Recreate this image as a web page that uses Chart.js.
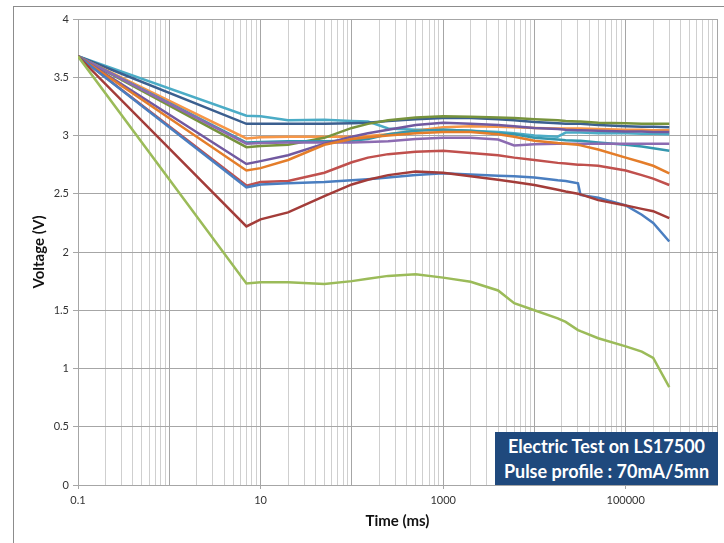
<!DOCTYPE html>
<html>
<head>
<meta charset="utf-8">
<script src="https://cdn.jsdelivr.net/npm/chart.js@4.4.1/dist/chart.umd.min.js"></script>
<style>
  body { margin: 0; background: #fff; overflow: hidden; }
  #wrap { position: relative; width: 724px; height: 543px; }
  #frame { position: absolute; left: 13px; top: 6px; width: 800px; height: 600px;
           border-left: 1px solid #8c8c8c; border-top: 1px solid #8c8c8c; }
  #note { position: absolute; left: 495px; top: 432px; width: 223px; height: 53px;
          background: #1f497d; color: #fff; font: bold 18px Lato, sans-serif;
          text-align: center; line-height: 25px; padding-top: 2px; box-sizing: border-box; }
</style>
</head>
<body>
<div id="wrap">
  <div id="frame"></div>
  <canvas id="chart" width="724" height="543"></canvas>
  <div id="note">Electric Test on LS17500<br>Pulse profile : 70mA/5mn</div>
</div>
<script>
// time base shared by all curves (ms)
const timeMs = [0.1, 7, 10, 20, 50, 100, 150, 250, 500, 1000, 2000, 4000, 6000,
                10000, 18000, 22000, 30000, 32000, 50000, 100000, 150000, 200000, 300000];

// voltages (V)
const cyanV    = [3.68, 3.17, 3.165, 3.13, 3.135, 3.125, 3.12, 3.06, 3.05, 3.05, 3.04, 3.03, 3.02, 3.00, 2.99, 3.025, 3.025, 3.025, 3.02, 3.02, 3.015, 3.015, 3.01];
const darkBlueV = [3.68, 3.10, 3.10, 3.10, 3.10, 3.105, 3.11, 3.125, 3.14, 3.15, 3.15, 3.14, 3.13, 3.115, 3.105, 3.10, 3.10, 3.10, 3.09, 3.08, 3.075, 3.075, 3.07];
const oliveV   = [3.68, 2.90, 2.91, 2.92, 2.98, 3.065, 3.10, 3.13, 3.155, 3.165, 3.16, 3.155, 3.15, 3.14, 3.13, 3.125, 3.12, 3.12, 3.11, 3.105, 3.10, 3.10, 3.10];
const orangeV  = [3.68, 2.975, 2.985, 2.99, 2.99, 2.99, 2.995, 3.01, 3.04, 3.07, 3.08, 3.075, 3.07, 3.065, 3.06, 3.06, 3.06, 3.06, 3.055, 3.05, 3.05, 3.045, 3.045];
const tealV    = [3.68, 2.94, 2.945, 2.95, 2.95, 2.955, 2.97, 3.01, 3.04, 3.05, 3.04, 3.02, 3.01, 2.98, 2.965, 2.96, 2.955, 2.955, 2.94, 2.92, 2.905, 2.89, 2.87];
const purpleV  = [3.68, 2.93, 2.935, 2.94, 2.94, 2.94, 2.945, 2.95, 2.97, 2.98, 2.98, 2.965, 2.915, 2.925, 2.93, 2.93, 2.93, 2.93, 2.93, 2.93, 2.93, 2.93, 2.93];
const purple2V = [3.68, 2.755, 2.78, 2.83, 2.93, 2.99, 3.02, 3.05, 3.09, 3.11, 3.10, 3.09, 3.08, 3.065, 3.055, 3.05, 3.045, 3.045, 3.04, 3.035, 3.035, 3.03, 3.03];
const orange2V = [3.68, 2.70, 2.72, 2.79, 2.92, 2.97, 2.985, 3.00, 3.02, 3.03, 3.03, 3.01, 2.99, 2.955, 2.935, 2.93, 2.92, 2.915, 2.88, 2.81, 2.77, 2.74, 2.675];
const redV     = [3.68, 2.57, 2.60, 2.61, 2.68, 2.77, 2.81, 2.84, 2.86, 2.87, 2.85, 2.83, 2.81, 2.79, 2.765, 2.76, 2.75, 2.75, 2.74, 2.70, 2.66, 2.63, 2.575];
const blueV    = [3.68, 2.555, 2.58, 2.59, 2.60, 2.615, 2.625, 2.64, 2.66, 2.675, 2.665, 2.655, 2.65, 2.64, 2.615, 2.61, 2.59, 2.49, 2.465, 2.40, 2.32, 2.25, 2.09];
const darkRedV = [3.68, 2.22, 2.28, 2.34, 2.48, 2.58, 2.62, 2.66, 2.69, 2.68, 2.65, 2.62, 2.60, 2.575, 2.535, 2.52, 2.50, 2.495, 2.445, 2.40, 2.37, 2.35, 2.29];
const lightGreenV = [3.68, 1.73, 1.74, 1.74, 1.725, 1.75, 1.77, 1.795, 1.81, 1.78, 1.745, 1.67, 1.56, 1.50, 1.43, 1.40, 1.33, 1.32, 1.26, 1.19, 1.145, 1.09, 0.84];

const xTickLabels = [0.1, 10, 1000, 100000];
const yTicks = [0, 0.5, 1, 1.5, 2, 2.5, 3, 3.5, 4];

const series = [
    { v: lightGreenV, c: "#9bbb59" },
    { v: darkRedV, c: "#a33c39" },
    { v: blueV, c: "#4a7ec0" },
    { v: redV, c: "#c0504d" },
    { v: orange2V, c: "#e47d2a" },
    { v: purple2V, c: "#7159a0" },
    { v: purpleV, c: "#8c6bb1" },
    { v: tealV, c: "#3597ae" },
    { v: oliveV, c: "#77933c" },
    { v: orangeV, c: "#f79646" },
    { v: darkBlueV, c: "#3b5f8f" },
    { v: cyanV, c: "#4bacc6" }
];

// 1..9 per decade, like the minor grid of the original
const gridTicks = [];
for (let e = -1; e < 6; e++) {
    for (let m = 1; m < 10; m++) gridTicks.push(Number((m * Math.pow(10, e)).toPrecision(3)));
}
gridTicks.push(1000000);

function isDecade(v) {
    const l = Math.log10(v);
    return Math.abs(l - Math.round(l)) < 1e-9;
}

const tickFont = { family: "Lato, sans-serif", size: 11 };
const titleFont = { family: "Lato, sans-serif", size: 15, weight: "bold" };

new Chart(document.getElementById("chart").getContext("2d"), {
    type: "line",
    data: {
        labels: timeMs,
        datasets: series.map(s => ({
            data: s.v.map((y, i) => ({ x: timeMs[i], y: y })),
            borderColor: s.c,
            borderWidth: 2.5,
            pointRadius: 0,
            tension: 0,
            fill: false
        }))
    },
    options: {
        responsive: false,
        devicePixelRatio: 1,
        animation: false,
        layout: { padding: { left: 14, right: 7, top: 19, bottom: 0 } },
        plugins: { legend: { display: false }, tooltip: { enabled: false } },
        scales: {
            x: {
                type: "logarithmic",
                min: 0.1,
                max: 1000000,
                afterBuildTicks: s => { s.ticks = gridTicks.map(v => ({ value: v })); },
                afterFit: s => { s.height = 58; },
                ticks: {
                    autoSkip: false, maxRotation: 0, padding: 5,
                    font: tickFont, color: "#333",
                    callback: v => xTickLabels.includes(v) ? String(v) : ""
                },
                grid: {
                    color: ctx => isDecade(ctx.tick.value) ? "#a6a6a6" : "#cfcfcf",
                    tickColor: ctx => xTickLabels.includes(ctx.tick.value) ? "#a6a6a6" : "rgba(0,0,0,0)",
                    tickLength: 4
                },
                border: { color: "#a6a6a6" },
                title: { display: true, text: "Time (ms)", font: titleFont, color: "#111", padding: { top: 0, bottom: 13 } }
            },
            y: {
                min: 0,
                max: 4,
                afterBuildTicks: s => { s.ticks = yTicks.map(v => ({ value: v })); },
                afterFit: s => { s.width = 64; },
                ticks: { font: tickFont, color: "#333", padding: 4, callback: v => String(v) },
                grid: { color: "#a6a6a6", tickLength: 5 },
                border: { color: "#a6a6a6" },
                title: { display: true, text: "Voltage (V)", font: titleFont, color: "#111", padding: { top: 16, bottom: 0 } }
            }
        }
    }
});
</script>
</body>
</html>
